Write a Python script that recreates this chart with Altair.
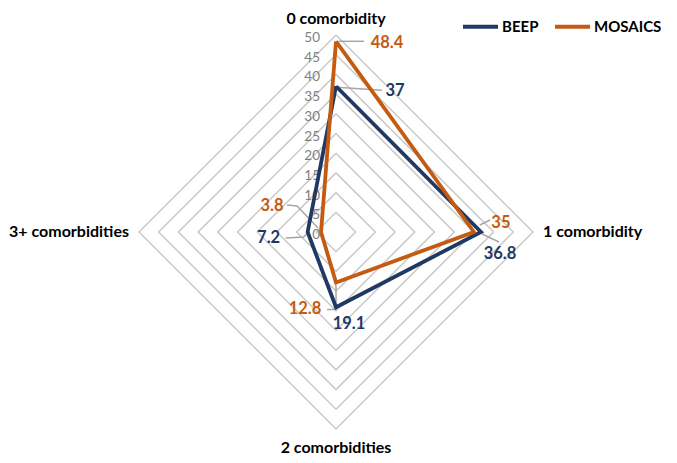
import altair as alt
import pandas as pd

# ---------------- data ----------------
categories = ["0 comorbidity", "1 comorbidity", "2 comorbidities", "3+ comorbidities"]
series_names = ["BEEP", "MOSAICS"]
beep_values = [37, 36.8, 19.1, 7.2]
mosaics_values = [48.4, 35, 12.8, 3.8]
ring_levels = [5, 10, 15, 20, 25, 30, 35, 40, 45, 50]
tick_labels = [0, 5, 10, 15, 20, 25, 30, 35, 40, 45, 50]

# ---------------- style ----------------
series_colors = ["#1F3864", "#C55A11"]
FONT = "Lato"
W = H = 394
R_MAX = 50
PX = W / (2 * R_MAX)  # pixels per data unit

# data-label offsets (pixels, from the point) and leader-line paths
label_offsets = {
    ("MOSAICS", 0): (51, 2), ("BEEP", 0): (59, 5),
    ("MOSAICS", 1): (27, -9), ("BEEP", 1): (19, 22),
    ("MOSAICS", 2): (-31, 27), ("BEEP", 2): (13, 17),
    ("MOSAICS", 3): (-49, -26), ("BEEP", 3): (-39, 6),
}
leader_paths = {
    ("MOSAICS", 0): [(3, 0), (28, 0)],
    ("BEEP", 0): [(1, 1), (46, 4)],
    ("MOSAICS", 1): [(6, -7), (16, -12)],
    ("BEEP", 1): [(1, 2), (18, 10)],
    ("MOSAICS", 2): [(0, 2), (0, 27), (-9, 27)],
    ("MOSAICS", 3): [(-34, -27), (-24, -26), (-3, -4)],
    ("BEEP", 3): [(-22, 6), (-4, 5), (0, 1)],
}

values_by_series = dict(zip(series_names, [beep_values, mosaics_values]))
n = len(categories)

series_rows = []
for name in series_names:
    vals = values_by_series[name]
    for i in range(n + 1):
        k = i % n
        series_rows.append({"series": name, "idx": k, "order": i, "value": vals[k]})
series_df = pd.DataFrame(series_rows)

ring_rows = [{"level": lv, "k": k} for lv in ring_levels for k in range(n + 1)]
ring_df = pd.DataFrame(ring_rows)

label_rows = []
for name in series_names:
    vals = values_by_series[name]
    for k in range(n):
        dx, dy = label_offsets[(name, k)]
        v = vals[k]
        label_rows.append({"series": name, "idx": k, "value": v,
                           "text": f"{v:g}", "dx": dx, "dy": dy})
label_df = pd.DataFrame(label_rows)

leader_rows = []
for (name, k), path in leader_paths.items():
    v = values_by_series[name][k]
    for j, (ox, oy) in enumerate(path):
        leader_rows.append({"lid": f"{name}{k}", "idx": k, "value": v,
                            "order": j, "ox": ox, "oy": oy})
leader_df = pd.DataFrame(leader_rows)

cat_df = pd.DataFrame({"category": categories, "idx": list(range(n))})
tick_df = pd.DataFrame({"v": tick_labels})

xs = alt.Scale(domain=[-R_MAX, R_MAX], nice=False, zero=False)
ys = alt.Scale(domain=[-R_MAX, R_MAX], nice=False, zero=False)
color_scale = alt.Scale(domain=series_names, range=series_colors)

X = "datum.value * sin(datum.idx * PI / 2)"
Y = "datum.value * cos(datum.idx * PI / 2)"

rings = alt.Chart(ring_df).transform_calculate(
    x="datum.level * sin(datum.k * PI / 2)",
    y="datum.level * cos(datum.k * PI / 2)",
).mark_line(color="#C9C9C9", strokeWidth=1.5).encode(
    x=alt.X("x:Q", scale=xs, axis=None),
    y=alt.Y("y:Q", scale=ys, axis=None),
    detail="level:N",
    order="k:Q",
)

ticks = alt.Chart(tick_df).transform_calculate(x="0").mark_text(
    align="right", baseline="middle", dx=-16, dy=3, font=FONT, fontSize=13.5, color="#808080"
).encode(
    x=alt.X("x:Q", scale=xs, axis=None),
    y=alt.Y("v:Q", scale=ys, axis=None),
    text="v:Q",
)

leaders = alt.Chart(leader_df).transform_calculate(
    x=f"{X} + datum.ox / {PX}",
    y=f"{Y} - datum.oy / {PX}",
).mark_line(color="#A6A6A6", strokeWidth=1.5).encode(
    x=alt.X("x:Q", scale=xs, axis=None),
    y=alt.Y("y:Q", scale=ys, axis=None),
    detail="lid:N",
    order="order:Q",
)

lines = alt.Chart(series_df).transform_calculate(x=X, y=Y).mark_line(
    strokeWidth=3.8, strokeJoin="miter"
).encode(
    x=alt.X("x:Q", scale=xs, axis=None),
    y=alt.Y("y:Q", scale=ys, axis=None),
    order="order:Q",
    color=alt.Color(
        "series:N", scale=color_scale, title=None,
        legend=alt.Legend(
            orient="none", legendX=322, legendY=-28, direction="horizontal",
            symbolType="stroke", symbolSize=1225, symbolStrokeWidth=4,
            labelFont=FONT, labelFontSize=15, labelFontWeight="bold",
            labelColor="#000000", columnPadding=8, labelOffset=2,
        ),
    ),
)

labels = alt.Chart(label_df).transform_calculate(
    x=f"{X} + datum.dx / {PX}",
    y=f"{Y} - datum.dy / {PX}",
).mark_text(font=FONT, fontSize=16.5, fontWeight="bold", baseline="middle", align="center").encode(
    x=alt.X("x:Q", scale=xs, axis=None),
    y=alt.Y("y:Q", scale=ys, axis=None),
    text="text:N",
    color=alt.Color("series:N", scale=color_scale, legend=None),
)

cat_base = alt.Chart(cat_df).transform_calculate(
    x=f"{R_MAX} * sin(datum.idx * PI / 2)",
    y=f"{R_MAX} * cos(datum.idx * PI / 2)",
)
cat_enc = dict(
    x=alt.X("x:Q", scale=xs, axis=None),
    y=alt.Y("y:Q", scale=ys, axis=None),
    text="category:N",
)
cat_style = dict(font=FONT, fontSize=16, fontWeight="bold", color="#000000", baseline="middle")
cat_top = cat_base.transform_filter("datum.idx == 0").mark_text(align="center", dy=-16, **cat_style).encode(**cat_enc)
cat_right = cat_base.transform_filter("datum.idx == 1").mark_text(align="left", dx=10, **cat_style).encode(**cat_enc)
cat_bottom = cat_base.transform_filter("datum.idx == 2").mark_text(align="center", dy=19, **cat_style).encode(**cat_enc)
cat_left = cat_base.transform_filter("datum.idx == 3").mark_text(align="right", dx=-10, **cat_style).encode(**cat_enc)

chart = alt.layer(
    rings, ticks, leaders, lines, labels, cat_top, cat_right, cat_bottom, cat_left
).resolve_scale(color="shared").properties(
    width=W, height=H,
    autosize="none",
    padding={"left": 131, "top": 27, "right": 136, "bottom": 26},
).configure_view(stroke=None)

chart.save("out.html", embed_options={"renderer": "svg", "actions": False})
